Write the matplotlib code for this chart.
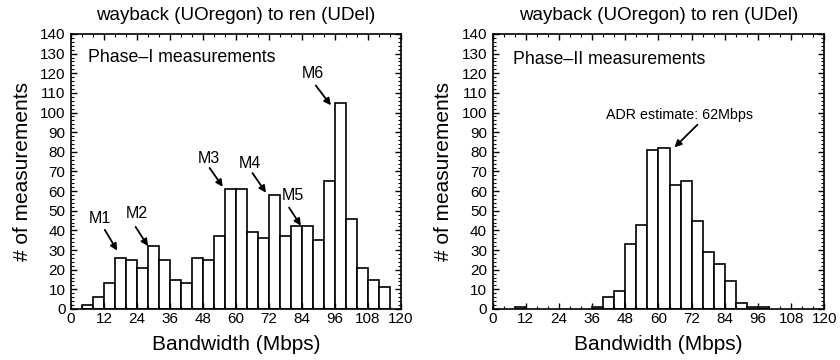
import numpy as np
import matplotlib.pyplot as plt
from matplotlib.ticker import MultipleLocator

plt.rcParams['font.family'] = ['Liberation Sans', 'DejaVu Sans']

# histogram bins, 4 Mbps wide
left_edges_1 = np.arange(4, 116, 4)
counts_1 = [2, 6, 13, 26, 25, 21, 32, 25, 15, 13, 26, 25, 37, 61,
            61, 39, 36, 58, 37, 42, 42, 35, 65, 105, 46, 21, 15, 11]

left_edges_2 = [8, 36, 40, 44, 48, 52, 56, 60, 64, 68, 72, 76, 80, 84, 88, 92, 96]
counts_2 = [1, 1, 6, 9, 33, 43, 81, 82, 63, 65, 45, 29, 23, 14, 3, 1, 1]

title = 'wayback (UOregon) to ren (UDel)'

# labels: (text, text xy, arrow start, arrow end)
marks = [('M1', (10.5, 46), (12.3, 40.3), (16.8, 29.7)),
         ('M2', (23.8, 48.4), (23.5, 41.8), (28, 32)),
         ('M3', (50, 76.8), (50.4, 71.8), (55.2, 62.2)),
         ('M4', (65.1, 74.3), (66, 69.2), (70.9, 59.2)),
         ('M5', (80.5, 58), (79.3, 51.6), (83.6, 42.4)),
         ('M6', (88, 119.7), (89, 113.8), (94.5, 103.7))]

fig = plt.figure(figsize=(8.4, 3.6), dpi=100)
ax1 = fig.add_axes([0.0845, 0.1417, 0.3929, 0.7639])
ax2 = fig.add_axes([0.5865, 0.1417, 0.3948, 0.7639])

for ax, edges, counts in [(ax1, left_edges_1, counts_1), (ax2, left_edges_2, counts_2)]:
    ax.bar(edges, counts, width=4, align='edge', color='white',
           edgecolor='black', linewidth=1.2)
    ax.set_xlim(0, 120)
    ax.set_ylim(0, 140)
    ax.xaxis.set_major_locator(MultipleLocator(12))
    ax.xaxis.set_minor_locator(MultipleLocator(4))
    ax.yaxis.set_major_locator(MultipleLocator(10))
    ax.yaxis.set_minor_locator(MultipleLocator(2))
    ax.tick_params(which='both', direction='in', top=True, right=True,
                   labelsize=11)
    ax.tick_params(axis='x', pad=2)
    ax.tick_params(axis='y', pad=4)
    ax.tick_params(which='major', length=4, width=1)
    ax.tick_params(which='minor', length=2, width=0.8)
    for s in ax.spines.values():
        s.set_linewidth(1.2)
    ax.set_title(title, fontsize=13.5, pad=10)
    ax.set_xlabel('Bandwidth (Mbps)', fontsize=15, labelpad=7)
    ax.set_ylabel('# of measurements', fontsize=15, labelpad=6)

ax1.text(6.3, 128, 'Phase\u2013I measurements', fontsize=12.8, va='center')
for txt, pos, start, end in marks:
    ax1.text(pos[0], pos[1], txt, fontsize=11.5, ha='center', va='center')
    ax1.annotate('', xy=end, xytext=start,
                 arrowprops=dict(arrowstyle='-|>', color='black', lw=1.3,
                                 mutation_scale=10, shrinkA=0, shrinkB=0))

ax2.text(7.3, 127, 'Phase\u2013II measurements', fontsize=12.8, va='center')
ax2.text(67.7, 98.7, 'ADR estimate: 62Mbps', fontsize=10.3, ha='center', va='center')
ax2.annotate('', xy=(65.8, 82.3), xytext=(74.1, 93.8),
             arrowprops=dict(arrowstyle='-|>', color='black', lw=1.3,
                             mutation_scale=10, shrinkA=0, shrinkB=0))

fig.savefig('out.png', dpi=100)
